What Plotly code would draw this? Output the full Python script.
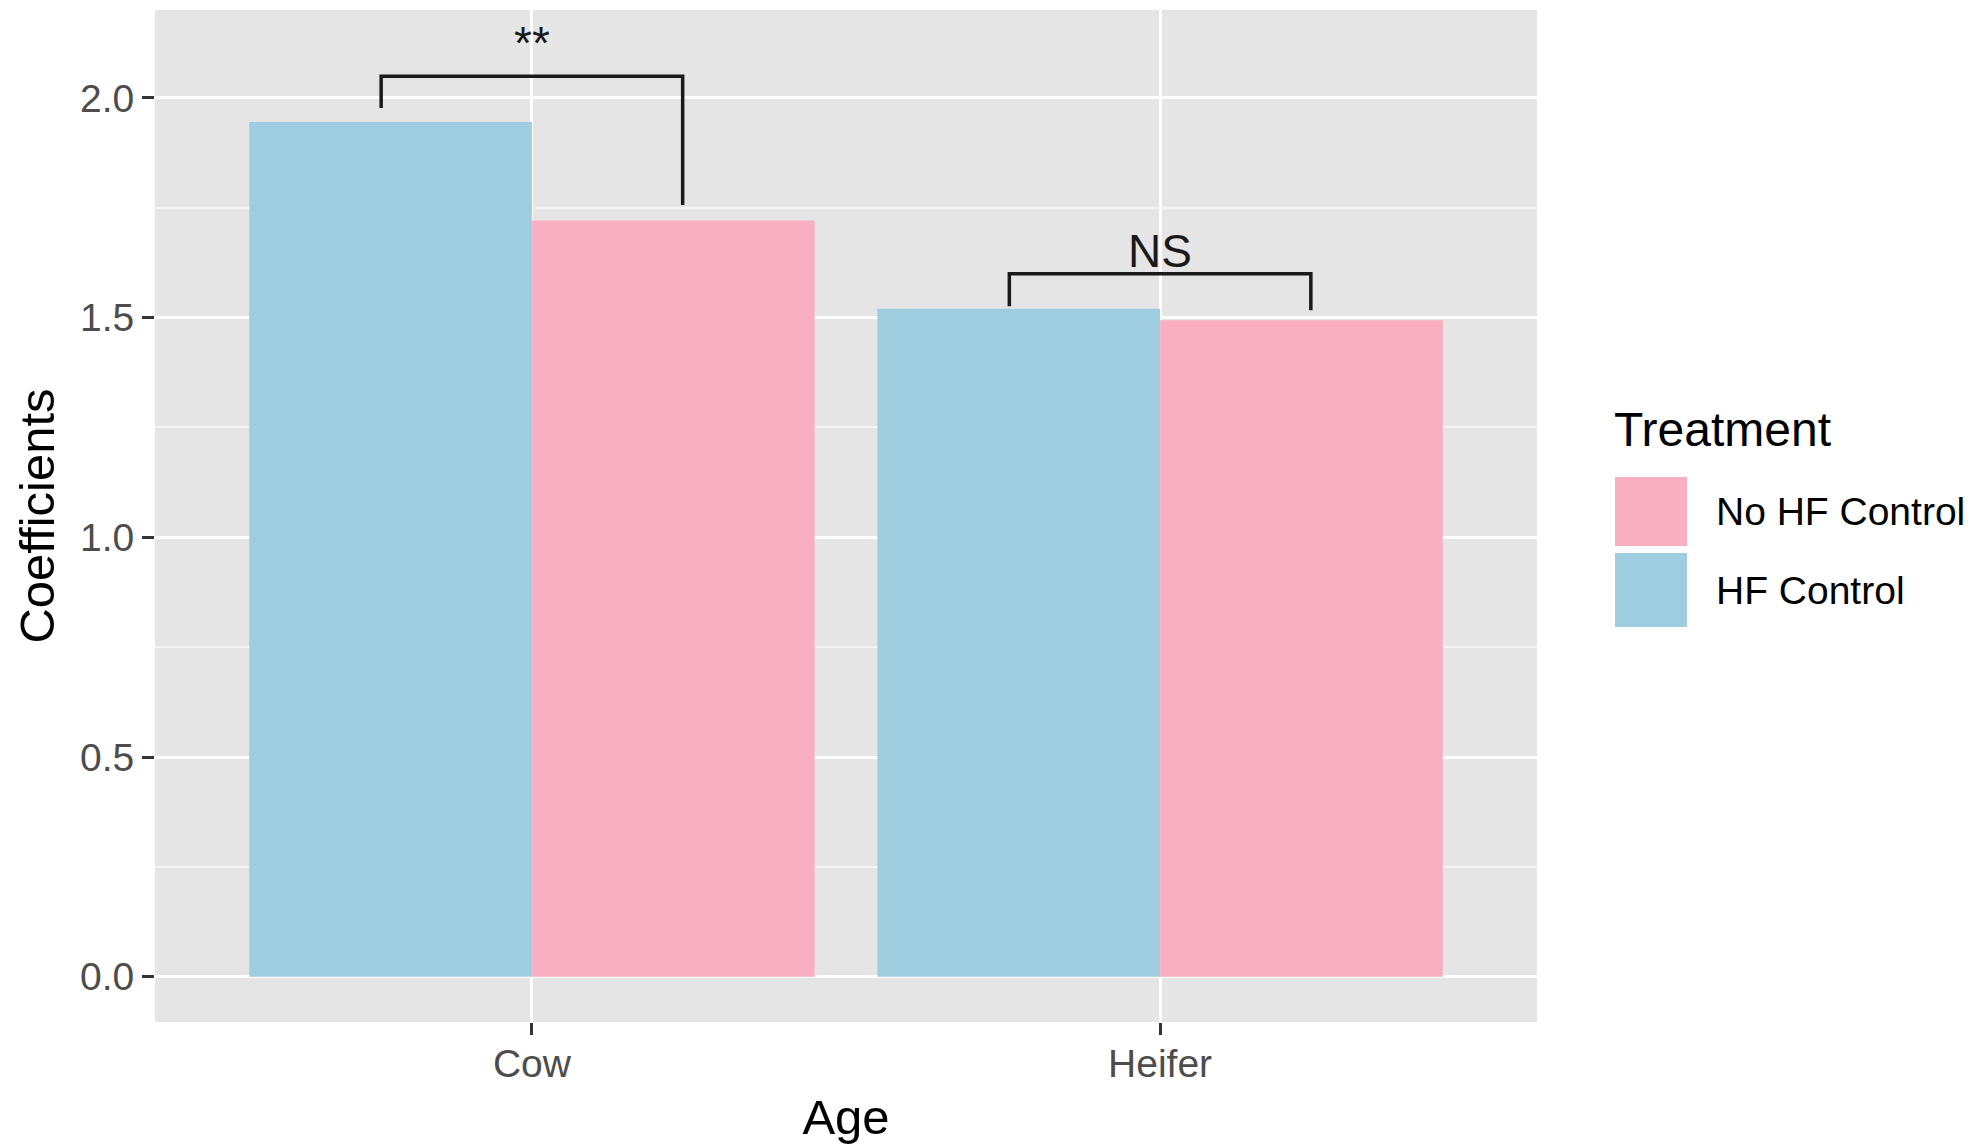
import plotly.graph_objects as go

# ---- data ----
ages = ["Cow", "Heifer"]
age_pos = [1, 2]
treatments = ["HF Control", "No HF Control"]
hf_control = [1.945, 1.520]
no_hf_control = [1.721, 1.494]
legend_order = ["No HF Control", "HF Control"]

# significance brackets
bracket_x = [1, 2]
bracket_half = [0.24, 0.24]
bracket_top = [2.049, 1.600]
bracket_left_bottom = [1.977, 1.526]
bracket_right_bottom = [1.756, 1.517]
sig_labels = ["**", "NS"]
sig_label_y = [2.125, 1.652]

y_ticks = [0.0, 0.5, 1.0, 1.5, 2.0]

# ---- style ----
COLORS = {"HF Control": "#9ECDE0", "No HF Control": "#F9AEC1"}
FONT = "Liberation Sans, Arial, Helvetica, sans-serif"
OFF = 8  # page body margin
W, H = 1979 - OFF, 1144 - OFF
# target pixel positions in the page
P_LEFT, P_RIGHT, P_TOP, P_BOTTOM = 155, 1537, 10, 1022
ML, MR, MT = P_LEFT - OFF, W - (P_RIGHT - OFF), P_TOP - OFF
MB = H - (P_BOTTOM - OFF)
PW, PH = W - ML - MR, H - MT - MB


def px_x(px):
    return (px - OFF - ML) / PW


def px_y(py):
    return (H - MB - (py - OFF)) / PH


fig = go.Figure()
for name, vals in zip(treatments, [hf_control, no_hf_control]):
    fig.add_trace(go.Bar(
        x=age_pos, y=vals, name=name,
        marker=dict(color=COLORS[name], line=dict(width=0)),
        showlegend=False,
    ))

shapes = []
for xc, hw, yt, yl, yr in zip(bracket_x, bracket_half, bracket_top,
                              bracket_left_bottom, bracket_right_bottom):
    shapes.append(dict(
        type="path", xref="x", yref="y",
        path=f"M {xc - hw} {yl} L {xc - hw} {yt} L {xc + hw} {yt} L {xc + hw} {yr}",
        line=dict(color="#1a1a1a", width=3.5),
    ))

annotations = []
for xc, lab, ly in zip(bracket_x, sig_labels, sig_label_y):
    annotations.append(dict(
        x=xc, y=ly, xref="x", yref="y", text=lab, showarrow=False,
        font=dict(family=FONT, size=46, color="#1a1a1a"),
        xanchor="center", yanchor="middle",
    ))

# manual ggplot-style legend
annotations.append(dict(
    x=px_x(1612), y=px_y(429), xref="paper", yref="paper", text="Treatment",
    showarrow=False, xanchor="left", yanchor="middle",
    font=dict(family=FONT, size=48, color="black"),
))
key_tops = [477, 553]
key_bottoms = [546, 627]
for name, kt, kb in zip(legend_order, key_tops, key_bottoms):
    shapes.append(dict(
        type="rect", xref="paper", yref="paper",
        x0=px_x(1615), x1=px_x(1687), y0=px_y(kb), y1=px_y(kt),
        fillcolor=COLORS[name], line=dict(width=0),
    ))
    annotations.append(dict(
        x=px_x(1714), y=px_y((kt + kb) / 2), xref="paper", yref="paper",
        text=name, showarrow=False, xanchor="left", yanchor="middle",
        font=dict(family=FONT, size=39, color="black"),
    ))

fig.update_layout(
    width=W, height=H,
    margin=dict(l=ML, r=MR, t=MT, b=MB),
    paper_bgcolor="white",
    plot_bgcolor="#E5E5E5",
    barmode="group", bargap=0.1, bargroupgap=0,
    shapes=shapes, annotations=annotations,
    font=dict(family=FONT),
    showlegend=False,
)
fig.update_xaxes(
    range=[0.4, 2.6], tickvals=age_pos, ticktext=ages,
    showgrid=True, gridcolor="white", gridwidth=3, zeroline=False,
    ticks="outside", ticklen=12, tickwidth=3, tickcolor="#333333",
    ticklabelstandoff=-5,
    tickfont=dict(family=FONT, size=39, color="#4D4D4D"),
    title=dict(text="Age", font=dict(family=FONT, size=49, color="black"), standoff=18),
    showline=False,
)
fig.update_yaxes(
    range=[-0.103, 2.2], tickvals=y_ticks, tickformat=".1f",
    showgrid=True, gridcolor="white", gridwidth=3, zeroline=False,
    ticks="outside", ticklen=12, tickwidth=3, tickcolor="#333333",
    tickfont=dict(family=FONT, size=39, color="#4D4D4D"),
    title=dict(text="Coefficients", font=dict(family=FONT, size=49, color="black"), standoff=9),
    minor=dict(dtick=0.25, tick0=0, showgrid=True, gridcolor="#F4F4F4", gridwidth=1.5, ticks=""),
    showline=False,
)

fig.write_html("out.html")
